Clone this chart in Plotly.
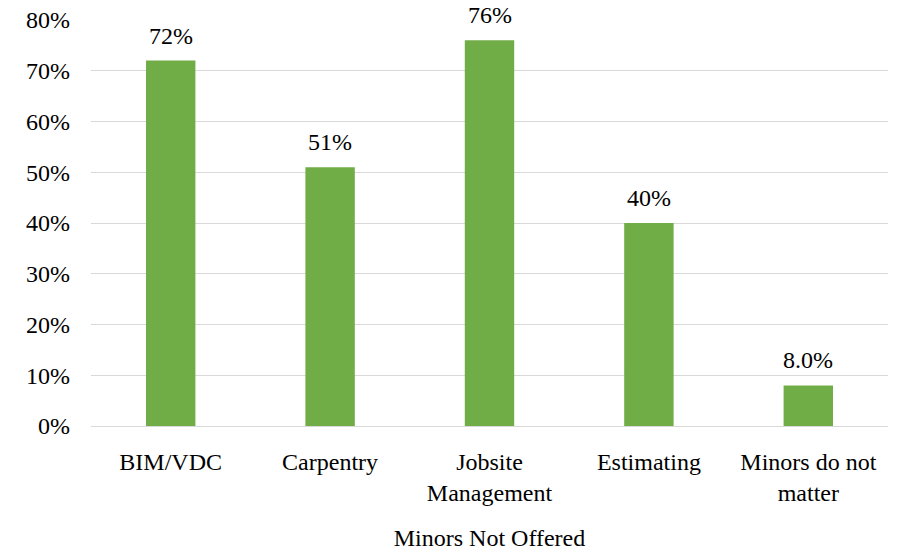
import plotly.graph_objects as go

categories = ["BIM/VDC", "Carpentry", "Jobsite<br>Management", "Estimating", "Minors do not<br>matter"]
values = [0.72, 0.51, 0.76, 0.40, 0.08]
data_labels = ["72%", "51%", "76%", "40%", "8.0%"]
y_ticks = [0, 0.1, 0.2, 0.3, 0.4, 0.5, 0.6, 0.7, 0.8]
y_tick_labels = ["0%", "10%", "20%", "30%", "40%", "50%", "60%", "70%", "80%"]

FONT = "Liberation Serif"

fig = go.Figure(
    go.Bar(
        x=categories,
        y=values,
        marker=dict(color="#70AD47", line=dict(width=0)),
        textposition="none",
        cliponaxis=False,
        hoverinfo="skip",
    )
)

for cat, val, lab in zip(categories, values, data_labels):
    fig.add_annotation(
        x=cat, y=val, text=lab, showarrow=False,
        xanchor="center", yanchor="bottom", yshift=10,
        font=dict(family=FONT, size=24, color="#000000"),
    )

fig.update_layout(
    width=897,
    height=551,
    margin=dict(l=91, r=9, t=20, b=125),
    paper_bgcolor="white",
    plot_bgcolor="white",
    bargap=0.69,
    showlegend=False,
    font=dict(family=FONT, size=24, color="#000000"),
    xaxis=dict(
        title=dict(text="Minors Not Offered", font=dict(family=FONT, size=24), standoff=23),
        tickfont=dict(family=FONT, size=24),
        showgrid=False,
        showline=False,
        ticks="",
        ticklabelstandoff=19,
        automargin=False,
    ),
    yaxis=dict(
        range=[0, 0.8],
        tickvals=y_ticks,
        ticktext=y_tick_labels,
        tickfont=dict(family=FONT, size=24),
        showgrid=True,
        gridcolor="#D9D9D9",
        gridwidth=1,
        zeroline=True,
        zerolinecolor="#D9D9D9",
        zerolinewidth=1,
        showline=False,
        ticks="",
        ticklabelstandoff=20,
        ticklabeloverflow="allow",
        automargin=False,
    ),
)

fig.write_html(
    "out.html",
    config={"displayModeBar": False},
    post_script="document.body.style.margin='0px';document.body.style.overflow='hidden';",
)
